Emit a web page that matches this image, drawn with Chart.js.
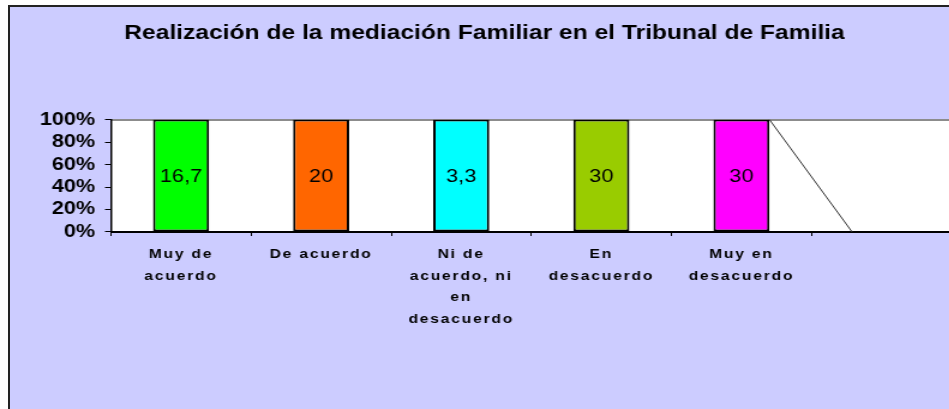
<!DOCTYPE html>
<html>
<head>
<meta charset="utf-8">
<script src="https://cdn.jsdelivr.net/npm/chart.js@4.4.0/dist/chart.umd.min.js"></script>
<style>
    html, body { margin: 0; padding: 0; background: #fff; overflow: hidden; width: 949px; height: 409px; }
    #frame { position: absolute; left: 8px; top: 5px; right: -20px; bottom: -20px; background: #ccccff; border-left: 2px solid #222; border-top: 2px solid #222; }
    #myChart { position: absolute; left: 0; top: 0; transform: scaleX(1.2); transform-origin: 0 0; }
</style>
</head>
<body>
<div id="frame"></div>
<canvas id="myChart" width="793" height="409"></canvas>
<script>
// data
let categories = [['Muy de', 'acuerdo'], ['De acuerdo'], ['Ni de', 'acuerdo, ni', 'en', 'desacuerdo'], ['En', 'desacuerdo'], ['Muy en', 'desacuerdo'], ''];
let percent_values = [16.7, 20, 3.3, 30, 30, null];
let bar_colors = ['#00ff00', '#ff6600', '#00ffff', '#99cc00', '#ff00ff', '#ffffff'];
let y_ticks = [0, 20, 40, 60, 80, 100];
// the stray diagonal stroke next to the last bar
let diag_x = [4.2, 4.79];
let diag_y = [100, 0];

const FONT = '"Liberation Sans", Arial, sans-serif';

// 100% stacked: each category's share of its own total
function stacked_percent(vals) {
    let out = [];
    for (let i = 0; i < vals.length; i++) {
        out.push(vals[i] == null ? null : vals[i] / vals[i] * 100);
    }
    return out;
}

let diag_points = [];
for (let i = 0; i < diag_x.length; i++) {
    diag_points.push({ x: diag_x[i], y: diag_y[i] });
}

const plotBg = {
    id: 'plotBg',
    beforeDraw(chart) {
        const a = chart.chartArea;
        const ctx = chart.ctx;
        ctx.save();
        ctx.fillStyle = '#ffffff';
        ctx.fillRect(a.left, a.top, a.right - a.left, a.bottom - a.top);
        ctx.restore();
        // spaced-out category labels
        const sx = chart.scales.x;
        if (!sx._spaced) {
            const orig = sx.drawLabels;
            sx.drawLabels = function (area) {
                this.ctx.save();
                this.ctx.letterSpacing = '1.5px';
                orig.call(this, area);
                this.ctx.restore();
            };
            sx._spaced = true;
        }
    }
};

const valueLabels = {
    id: 'valueLabels',
    afterDatasetsDraw(chart) {
        const ctx = chart.ctx;
        const meta = chart.getDatasetMeta(0);
        ctx.save();
        ctx.font = '18px ' + FONT;
        ctx.fillStyle = '#000';
        ctx.textAlign = 'center';
        ctx.textBaseline = 'middle';
        meta.data.forEach((el, i) => {
            if (percent_values[i] == null) return;
            ctx.fillText(String(percent_values[i]).replace('.', ','), el.x, (el.y + el.base) / 2 + 1);
        });
        ctx.restore();
    }
};

var ctx = document.getElementById('myChart');
var chart = new Chart(ctx, {
    type: 'bar',
    data: {
        labels: categories,
        datasets: [
            {
                label: 'Mediación',
                data: stacked_percent(percent_values),
                backgroundColor: bar_colors,
                borderColor: '#000',
                borderWidth: 2,
                borderSkipped: false,
                categoryPercentage: 1,
                barPercentage: 0.4,
                grouped: false,
                xAxisID: 'x',
                order: 2
            },
            {
                type: 'line',
                label: 'diag',
                data: diag_points,
                xAxisID: 'x2',
                borderColor: '#333',
                borderWidth: 1,
                pointRadius: 0,
                fill: false,
                order: 1
            }
        ]
    },
    options: {
        responsive: false,
        animation: false,
        devicePixelRatio: 1,
        layout: { padding: { left: 14.5, right: 0, top: 0, bottom: 0 } },
        scales: {
            x: {
                position: 'bottom',
                grid: { display: true, drawOnChartArea: false, color: '#000', tickLength: 4, lineWidth: 1 },
                border: { display: true, color: '#000', width: 2 },
                ticks: {
                    color: '#000',
                    padding: 8,
                    maxRotation: 0,
                    autoSkip: false,
                    font: { family: FONT, size: 13, weight: 'bold', lineHeight: 1.65 }
                },
                afterFit(scale) { scale.height = 177; }
            },
            x2: {
                type: 'linear',
                position: 'top',
                offset: false,
                min: -0.5,
                max: 5.5,
                grid: { display: true, drawOnChartArea: false, drawTicks: false, offset: false },
                border: { display: true, color: '#8c8c8c', width: 2 },
                ticks: { display: false },
                afterFit(scale) { scale.height = 0; }
            },
            y: {
                min: 0,
                max: 100,
                afterBuildTicks(scale) { scale.ticks = y_ticks.map(v => ({ value: v })); },
                grid: { display: true, drawOnChartArea: false, color: '#000', tickLength: 5, lineWidth: 1 },
                border: { display: true, color: '#000', width: 1.5 },
                ticks: {
                    color: '#000',
                    padding: 8.3,
                    autoSkip: false,
                    callback: v => v + '%',
                    font: { family: FONT, size: 18, weight: 'bold', lineHeight: 1 }
                },
                afterFit(scale) { scale.width = 78; }
            }
        },
        plugins: {
            legend: { display: false },
            tooltip: { enabled: false },
            title: {
                display: true,
                text: 'Realización de la mediación Familiar en el Tribunal de Familia',
                color: '#000',
                font: { family: FONT, size: 20.5, weight: 'bold', lineHeight: 1.2 },
                padding: { top: 21, bottom: 74 }
            }
        }
    },
    plugins: [plotBg, valueLabels]
});
</script>
</body>
</html>
